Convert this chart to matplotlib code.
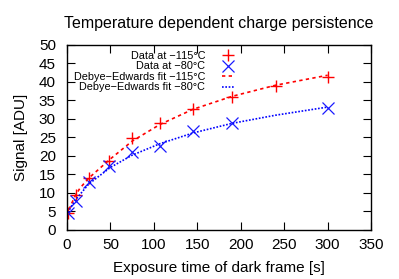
import matplotlib
matplotlib.use("Agg")
import matplotlib.pyplot as plt

# Measured data
t_red = [1, 10, 25, 48, 75, 107, 145, 190, 240, 300]
s_red = [4.7, 9.4, 14.0, 18.7, 24.8, 29.0, 32.8, 35.9, 38.9, 41.4]
t_blue = [1, 10, 25, 48, 75, 107, 145, 190, 300]
s_blue = [4.5, 7.9, 12.9, 17.2, 21.1, 22.7, 26.6, 28.9, 33.0]

# Fit curves
fit_t = [0, 2, 5, 10, 15, 25, 50, 75, 107, 145, 190, 240, 300]
fit_red = [3.8, 5.3, 7.0, 9.5, 11.3, 14.0, 19.2, 24.0, 28.5, 32.6, 36.1, 39.1, 41.8]
fit_blue = [3.8, 5.1, 6.4, 8.2, 9.6, 12.4, 16.9, 20.2, 23.3, 26.2, 28.8, 31.0, 33.2]

xticks = [0, 50, 100, 150, 200, 250, 300, 350]
yticks = [0, 5, 10, 15, 20, 25, 30, 35, 40, 45, 50]

plt.rcParams['font.family'] = ['Liberation Sans', 'DejaVu Sans']
fig = plt.figure(figsize=(3.99, 2.79), dpi=100)
ax = fig.add_axes([0.168, 0.176, 0.762, 0.663])

ax.plot(t_red, s_red, linestyle='none', marker='+', color='red', ms=9, mew=1.0,
        label='Data at \u2212115\u00b0C')
ax.plot(t_blue, s_blue, linestyle='none', marker='x', color='#1a1aff', ms=8, mew=0.9,
        label='Data at \u221280\u00b0C')
ax.plot(fit_t, fit_red, color='red', lw=1.2, linestyle=(0, (2, 2)),
        label='Debye\u2212Edwards fit \u2212115\u00b0C')
ax.plot(fit_t, fit_blue, color='blue', lw=1.2, linestyle=(0, (1, 1)),
        label='Debye\u2212Edwards fit \u221280\u00b0C')

ax.set_xlim(0, 350)
ax.set_ylim(0, 50)
ax.set_xticks(xticks)
ax.set_yticks(yticks)
ax.tick_params(direction='in', top=True, right=True, length=6, width=0.8,
               labelsize=11)
ax.tick_params(axis='x', pad=6)
ax.tick_params(axis='y', pad=8)
for s in ax.spines.values():
    s.set_linewidth(1.0)

ax.set_title('Temperature dependent charge persistence', fontsize=11.5, pad=12)
ax.set_xlabel('Exposure time of dark frame [s]', fontsize=11, labelpad=6)
ax.set_ylabel('Signal [ADU]', fontsize=11, labelpad=8)

leg = ax.legend(loc='upper right', bbox_to_anchor=(0.579, 1.015), markerfirst=False,
                frameon=False, fontsize=7.8, handlelength=1.1, handletextpad=1.6,
                labelspacing=0.05, borderpad=0.3)

fig.savefig('out.png', dpi=100)
